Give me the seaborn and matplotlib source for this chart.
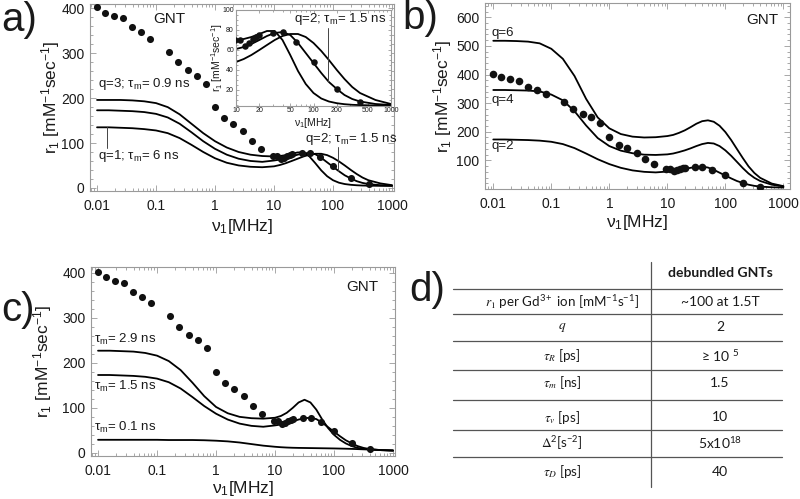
import matplotlib
matplotlib.use('Agg')
import matplotlib.pyplot as plt
import matplotlib.ticker as mticker
import seaborn as sns

sns.set_style('ticks')
plt.rcParams['font.family'] = ['Liberation Sans', 'DejaVu Sans']
plt.rcParams['mathtext.fontset'] = 'stix'

# ── Data ─────────────────────────────────────────────────
# measured NMRD profile (GNT)
DOT_F = [0.01, 0.0137, 0.0197, 0.028, 0.0397, 0.0566, 0.0805, 0.165, 0.24, 0.345,
         0.49, 0.70, 1.0, 1.44, 2.05, 2.95, 4.2, 6.0, 9.6, 11.2, 13.2, 14.8, 16.5,
         18.3, 20, 30, 40, 60, 100, 200, 400]
DOT_R = [403, 391, 383, 378, 358, 347, 333, 304, 280, 262,
         250, 232, 180, 155, 142, 127, 105, 86, 70, 70, 64, 67, 71,
         73, 75, 77, 78, 68, 48, 21, 8]

# frequency grid of the fitted curves (MHz)
FREQ = [0.01, 0.0158, 0.0251, 0.0398, 0.0631, 0.1, 0.158, 0.251, 0.398, 0.631,
        1, 1.58, 2.51, 3.98, 6.31, 10, 12.6, 15.8, 20, 25.1, 31.6, 39.8, 50.1,
        63.1, 79.4, 100, 126, 158, 200, 251, 316, 398, 631, 1000]

# q=2; tau_m=1.5 ns (shared by a, b, c)
Q2_TM15 = [173, 173, 172, 171, 169, 165, 157, 143, 124, 104,
           87, 74, 65, 60, 58, 61, 63, 66, 70, 74, 77, 78, 75,
           67, 57, 47, 37, 28, 21, 15, 11, 8.5, 6, 5]
# a) q=3; tau_m=0.9 ns
A_Q3 = [196, 196, 196, 195, 193, 189, 180, 164, 143, 122,
        104, 90, 80, 74, 71, 70, 71, 73, 76, 79, 79, 70, 55,
        39, 26, 17, 11.5, 8.5, 6.8, 5.8, 5.2, 4.9, 4.5, 4.3]
# a) q=1; tau_m=6 ns
A_Q1 = [135, 135, 134, 133, 131, 128, 122, 111, 96, 80,
        66, 56, 50, 47, 46, 48, 51, 55, 60, 65, 70, 74, 76,
        76, 73, 67, 59, 50, 40, 31, 23, 17, 10, 6]
# b) q=6 and q=4
B_Q6 = [518, 518, 517, 515, 509, 490, 455, 395, 315, 250,
        212, 192, 183, 180, 181, 185, 189, 196, 205, 216, 228, 237, 240,
        235, 221, 199, 171, 140, 108, 79, 56, 39, 19, 10]
B_Q4 = [346, 346, 345, 344, 341, 330, 310, 272, 222, 178,
        150, 134, 125, 120, 119, 121, 124, 129, 135, 142, 150, 157, 161,
        159, 150, 135, 116, 95, 73, 54, 39, 28, 15, 9]
# c) tau_m = 2.9 ns and 0.1 ns
C_TM29 = [227, 227, 226, 225, 222, 216, 204, 184, 156, 126,
          102, 88, 80, 77, 76, 78, 82, 89, 100, 112, 118, 112, 96,
          74, 55, 40, 29, 21, 15, 11, 9, 7.5, 6, 5]
C_TM01 = [29, 29, 29, 29, 29, 29, 28.5, 28.5, 28.5, 28,
          27, 25.5, 23, 19.5, 16, 13.5, 12.5, 11.8, 11.3, 11, 10.8, 10.6, 10.4,
          10.2, 10, 9.8, 9.5, 9.2, 8.8, 8.3, 7.8, 7.3, 6.3, 5.5]

TABLE_PARAMS = [r'$r_1$ per Gd$\mathregular{^{3+}}$ ion [mM$\mathregular{^{-1}}$s$\mathregular{^{-1}}$]',
                r'$q$', r'$\tau_R$ [ps]', r'$\tau_m$ [ns]', r'$\tau_v$ [ps]',
                r'$\Delta$$\mathregular{^2}$[s$\mathregular{^{-2}}$]', r'$\tau_D$ [ps]']
TABLE_VALUES = ['~100 at 1.5T', '2', r'≥ 10 $\mathregular{^{5}}$', '1.5', '10',
                r'5x10$\mathregular{^{18}}$', '40']

YLAB = r'r$\mathregular{_1}$ [mM$\mathregular{^{-1}}$sec$\mathregular{^{-1}}$]'
XLAB = r'ν$\mathregular{_1}$[MHz]'
FRAME = '#9a9a9a'
INK = '#1a1a1a'


def style_frame(ax, xlim, ylim, yticks, ysub, size, pad=6):
    ax.set_xscale('log')
    ax.set_xlim(xlim)
    ax.set_ylim(ylim)
    for s in ax.spines.values():
        s.set_color(FRAME)
        s.set_linewidth(0.8)
    ax.xaxis.set_major_locator(mticker.LogLocator(base=10, numticks=12))
    ax.xaxis.set_minor_locator(mticker.LogLocator(base=10, subs=range(2, 10), numticks=12))
    ax.xaxis.set_major_formatter(mticker.FuncFormatter(lambda v, p: f'{v:g}'))
    ax.xaxis.set_minor_formatter(mticker.NullFormatter())
    ax.set_yticks(yticks)
    ax.yaxis.set_minor_locator(mticker.MultipleLocator(ysub))
    ax.tick_params(which='both', direction='in', top=True, right=True,
                   color=FRAME, width=0.6, labelsize=size, labelcolor=INK)
    ax.tick_params(axis='x', pad=pad)
    ax.tick_params(axis='y', pad=4)
    ax.tick_params(which='major', length=4)
    ax.tick_params(which='minor', length=2)
    ax.set_xlabel('')
    ax.set_ylabel('')


def draw_curves(ax, curves, sl=slice(None)):
    for c in curves:
        sns.lineplot(x=FREQ[sl], y=c[sl], ax=ax, color='black', linewidth=1.3,
                     errorbar=None)


def draw_dots(ax, s=26):
    sns.scatterplot(x=DOT_F, y=DOT_R, ax=ax, color='#111111', s=s,
                    linewidth=0, zorder=3)


def labels(ax, xy_x, xy_y):
    ax.text(0.5, xy_x, XLAB, transform=ax.transAxes, ha='center', va='center',
            fontsize=12.5, color=INK)
    ax.text(xy_y, 0.5, YLAB, transform=ax.transAxes, ha='center', va='center',
            rotation=90, fontsize=12.5, color=INK)


fig = plt.figure(figsize=(8, 4.99), dpi=100)
W, H = 800, 499


def box(x0, y0, x1, y1):
    return [x0 / W, 1 - y1 / H, (x1 - x0) / W, (y1 - y0) / H]


# ── Panel a ───────────────────────────────────────────────
ax = fig.add_axes(box(90, 4, 394, 191))
draw_curves(ax, [A_Q3, Q2_TM15, A_Q1])
draw_dots(ax)
style_frame(ax, (0.0076, 1080), (-7, 410), [0, 100, 200, 300, 400], 20, 10)
labels(ax, -0.19, -0.13)
ax.text(0.166, 377, 'GNT', ha='center', va='center', fontsize=11, color=INK)
ax.text(0.0104, 231, r'q=3; τ$\mathregular{_m}$= 0.9 ns', ha='left', va='center',
        fontsize=9.5, color=INK)
ax.text(0.0104, 70, r'q=1; τ$\mathregular{_m}$= 6 ns', ha='left', va='center',
        fontsize=9.5, color=INK)
ax.plot([0.0148, 0.0148], [88, 135], color='#444444', lw=0.7)
ax.text(33.5, 110, r'q=2; τ$\mathregular{_m}$= 1.5 ns', ha='left', va='center',
        fontsize=9.5, color=INK)
ax.plot([120, 120], [92, 38], color='#444444', lw=0.7)

# inset
axi = fig.add_axes(box(236, 10, 391, 106))
axi.set_facecolor('white')
draw_curves(axi, [A_Q3, Q2_TM15, A_Q1], slice(15, None))
sns.scatterplot(x=DOT_F[18:], y=DOT_R[18:], ax=axi, color='#111111', s=22,
                linewidth=0, zorder=3)
style_frame(axi, (10, 1000), (4, 100), [20, 40, 60, 80, 100], 5, 5, pad=1)
axi.tick_params(which='major', length=2.5)
axi.tick_params(axis='y', pad=1.5)
axi.tick_params(which='minor', length=1.5)
axi.xaxis.set_major_locator(mticker.FixedLocator([10, 20, 50, 100, 200, 500, 1000]))
axi.text(0.5, -0.175, XLAB, transform=axi.transAxes, ha='center', va='center',
         fontsize=7.5, color=INK)
axi.text(-0.12, 0.5, YLAB, transform=axi.transAxes, ha='center', va='center',
         rotation=90, fontsize=7.5, color=INK)
axi.text(56, 90.6, r'q=2; τ$\mathregular{_m}$= 1.5 ns', ha='left', va='center',
         fontsize=9.5, color=INK)
axi.plot([155, 155], [82.5, 28], color='#444444', lw=0.7)

# ── Panel b ───────────────────────────────────────────────
ax = fig.add_axes(box(485, 3, 790, 189))
draw_curves(ax, [B_Q6, B_Q4, Q2_TM15])
draw_dots(ax, 30)
style_frame(ax, (0.0072, 1300), (0, 650), [100, 200, 300, 400, 500, 600], 20, 10)
labels(ax, -0.18, -0.138)
ax.text(436, 590, 'GNT', ha='center', va='center', fontsize=11, color=INK)
ax.text(0.0093, 545, 'q=6', ha='left', va='center', fontsize=9.5, color=INK)
ax.text(0.0093, 312, 'q=4', ha='left', va='center', fontsize=9.5, color=INK)
ax.text(0.0093, 149, 'q=2', ha='left', va='center', fontsize=9.5, color=INK)

# ── Panel c ───────────────────────────────────────────────
ax = fig.add_axes(box(91, 267, 395, 456))
draw_curves(ax, [C_TM29, Q2_TM15, C_TM01])
draw_dots(ax)
style_frame(ax, (0.0076, 1080), (-7, 413), [0, 100, 200, 300, 400], 20, 10)
labels(ax, -0.17, -0.158)
ax.text(297, 369, 'GNT', ha='center', va='center', fontsize=11, color=INK)
ax.text(0.0086, 251, r'τ$\mathregular{_m}$= 2.9 ns', ha='left', va='center',
        fontsize=9.5, color=INK)
ax.text(0.0086, 147, r'τ$\mathregular{_m}$= 1.5 ns', ha='left', va='center',
        fontsize=9.5, color=INK)
ax.text(0.0086, 56, r'τ$\mathregular{_m}$= 0.1 ns', ha='left', va='center',
        fontsize=9.5, color=INK)

# ── Panel d: table ────────────────────────────────────────
axd = fig.add_axes([400 / W, 0, 400 / W, 250 / H])
axd.set_xlim(400, 800)
axd.set_ylim(499, 249)
axd.axis('off')
row_y = [302, 327, 356, 383, 417, 443, 472]
rule_y = [289, 314, 341, 370, 400, 430, 457]
for y in rule_y:
    axd.plot([453, 782], [y, y], color='#555555', lw=0.9)
axd.plot([651, 651], [262, 487], color='#555555', lw=0.9)
tfont = ['Lato', 'DejaVu Sans']
axd.text(720, 273, 'debundled GNTs', ha='center', va='center', fontsize=10,
         fontweight='bold', family=tfont, color=INK)
for y, p, v in zip(row_y, TABLE_PARAMS, TABLE_VALUES):
    axd.text(562, y, p, ha='center', va='center', fontsize=9.6, family=tfont, color=INK)
    axd.text(720, y, v, ha='center', va='center', fontsize=10, family=tfont, color=INK)

# ── Panel letters ─────────────────────────────────────────
for x, y, t in [(1, 20, 'a)'), (402, 18, 'b)'), (1, 310, 'c)'), (409, 290, 'd)')]:
    fig.text(x / W, 1 - y / H, t, ha='left', va='center', fontsize=29, color=INK)

fig.savefig('out.png', dpi=100)
